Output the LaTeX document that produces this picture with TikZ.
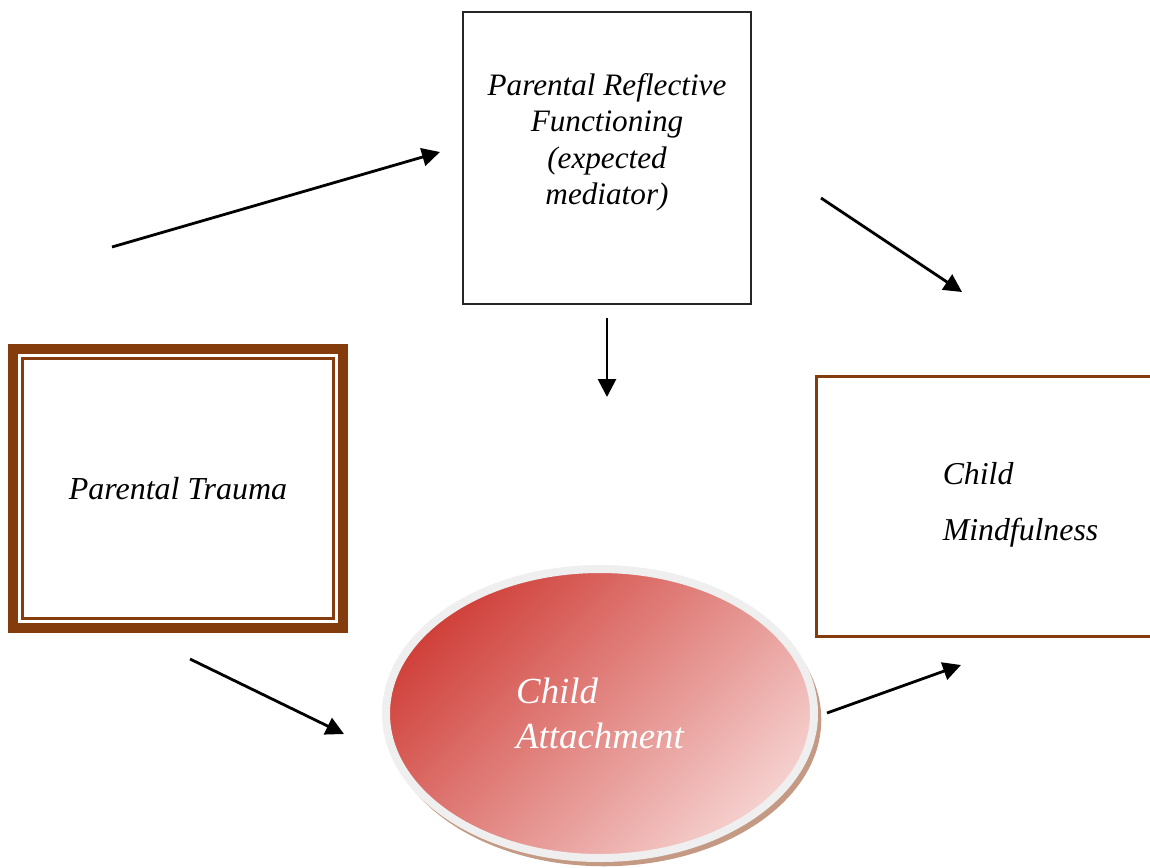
\documentclass[tikz,border=0pt]{standalone}
\usepackage{fontspec}
\setmainfont{Liberation Serif}
\usepackage{tikz}
\usetikzlibrary{arrows.meta,positioning,shapes.geometric,shadows}
\definecolor{framebrown}{HTML}{843C0C}
\definecolor{ringgrey}{HTML}{EFEFEF}
\definecolor{shadowtan}{HTML}{C49A84}
\definecolor{attred}{HTML}{D0403A}
\definecolor{attpink}{HTML}{F5D0CE}
\tikzset{
  brownbox/.style={rectangle, draw=framebrown, line width=#1, outer sep=0pt, inner sep=0pt},
  plainbox/.style={rectangle, draw=black!85, line width=1pt, outer sep=0pt, inner sep=0pt},
  arr/.style={-{Triangle[length=9pt,width=9pt]}, line width=1.4pt, draw=black},
}

\begin{document}
\begin{tikzpicture}[x=0.5pt, y=-0.5pt]
    \clip (0,0) rectangle (1150,867);
    \fill[white] (0,0) rectangle (1150,867);
    % boxes
    \node[plainbox, minimum width=144pt, minimum height=146pt] (prf) at (607,158) {};
    \node[below=30.5pt of prf.north, inner sep=0pt, align=center,
          font={\fontsize{15.6}{18.2}\selectfont\itshape}] (prftext)
          {Parental Reflective\\Functioning\\(expected\\mediator)};
    \node[brownbox=5pt, minimum width=165pt, minimum height=139.5pt,
          font={\fontsize{16}{19}\selectfont\itshape}] (pt) at (178,488.5) {Parental Trauma};
    \draw[framebrown, line width=1.25pt] ([shift={(9.5,9.5)}]pt.north west) rectangle ([shift={(-9.5,-9.5)}]pt.south east);
    \node[brownbox=1.5pt, minimum width=204pt, minimum height=130pt, align=left,
          font={\fontsize{15.9}{28}\selectfont\itshape}] (cm) at (1020.5,506.5) {Child\\Mindfulness\\[-23pt]\mbox{}};
    \node[ellipse, minimum width=214pt, minimum height=144.5pt, inner sep=0pt,
          draw=ringgrey, line width=4pt, top color=attred, bottom color=attpink, shading angle=45,
          drop shadow={shadow xshift=2pt, shadow yshift=-3pt, shadow scale=1.015, fill=shadowtan, opacity=1},
          align=left, text=white, font={\fontsize{18.4}{22.5}\selectfont\itshape}] (ca) at (600,713.5) {Child\\Attachment};
    % arrow ends
    \coordinate (ptout) at (112,247);
    \coordinate (prfin) at (440,152);
    \coordinate (prfout) at (821,198);
    \coordinate (cmin) at (962,292);
    \coordinate (prfdown) at (607,318);
    \coordinate (cain) at (607,397);
    \coordinate (ptdown) at (190,659);
    \coordinate (caleft) at (344,734);
    \coordinate (caout) at (827,713);
    \coordinate (cmlow) at (961,665);
    \draw[arr] (ptout) -- (prfin);
    \draw[arr] (prfout) -- (cmin);
    \draw[arr] (prfdown) -- (cain);
    \draw[arr] (ptdown) -- (caleft);
    \draw[arr] (caout) -- (cmlow);
\end{tikzpicture}
\end{document}
